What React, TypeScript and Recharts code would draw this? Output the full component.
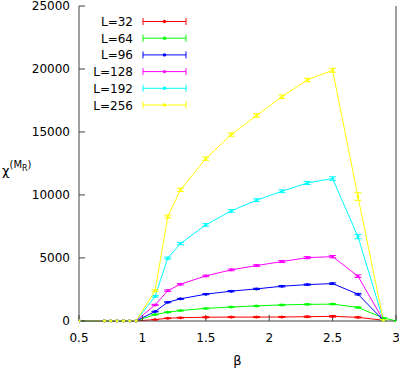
import React from "react";
import { LineChart, Line, XAxis, YAxis, ErrorBar, Legend, Label } from "recharts";

const beta = [0.5, 0.7, 0.75, 0.8, 0.85, 0.9, 0.95, 1.1, 1.2, 1.3, 1.5, 1.7, 1.9, 2.1, 2.3, 2.5, 2.7, 2.9, 3.0];

const chi32 = [0, 0, 0, 0, 0, 0, 0, 100, 210, 250, 290, 300, 300, 310, 330, 360, 280, 50, null];
const chi64 = [0, 0, 0, 0, 0, 0, 0, 500, 690, 820, 990, 1100, 1190, 1270, 1310, 1330, 1070, 230, 0];
const chi96 = [0, 0, 0, 0, 0, 0, 0, 740, 1480, 1750, 2120, 2360, 2540, 2750, 2880, 2960, 2120, 50, null];
const chi128 = [0, 0, 0, 0, 0, 0, 0, 1270, 2400, 2910, 3570, 4050, 4390, 4710, 5020, 5100, 3550, 50, null];
const chi192 = [0, 0, 0, 0, 0, 0, 0, 1950, 4980, 6140, 7620, 8730, 9580, 10290, 10950, 11300, 6690, 50, null];
const chi256 = [0, 0, 0, 0, 0, 0, 0, 2390, 8280, 10400, 12880, 14790, 16300, 17800, 19130, 19900, 9870, 50, null];

const err32 = [0, 0, 0, 0, 0, 0, 0, 20, 30, 30, 40, 40, 40, 40, 50, 60, 40, 10, null];
const err64 = [0, 0, 0, 0, 0, 0, 0, 20, 30, 30, 30, 30, 30, 40, 40, 40, 40, 20, 0];
const err96 = [0, 0, 0, 0, 0, 0, 0, 30, 40, 40, 40, 50, 50, 50, 50, 60, 60, 10, null];
const err128 = [0, 0, 0, 0, 0, 0, 0, 40, 60, 60, 60, 70, 70, 80, 80, 90, 100, 10, null];
const err192 = [0, 0, 0, 0, 0, 0, 0, 60, 80, 90, 100, 100, 110, 110, 120, 140, 170, 20, null];
const err256 = [0, 0, 0, 0, 0, 0, 0, 80, 120, 130, 130, 130, 130, 140, 140, 160, 300, 60, null];

const labels = ["L=32", "L=64", "L=96", "L=128", "L=192", "L=256"];
const colors = ["#ff0000", "#00ff00", "#0000ff", "#ff00ff", "#00ffff", "#ffff00"];
const values = [chi32, chi64, chi96, chi128, chi192, chi256];
const errors = [err32, err64, err96, err128, err192, err256];

const xTicks = [0.5, 1, 1.5, 2, 2.5, 3];
const yTicks = [0, 5000, 10000, 15000, 20000, 25000];

const font = "DejaVu Sans, sans-serif";
const axisColor = "#404040";

const series = values.map((vals, i) =>
  beta
    .map((b, j) => ({ beta: b, chi: vals[j], err: errors[i][j] }))
    .filter((p) => p.chi !== null)
);

// legend drawn by hand: text right-aligned, then a short errorbar sample
const LegendBox = () => (
  <svg width={160} height={110} style={{ display: "block" }}>
    {labels.map((name, i) => {
      const y = 9.5 + i * 16.7;
      return (
        <g key={name}>
          <text x={93} y={y + 4.5} textAnchor="end" fontSize={12} fontFamily={font} fill="#000">
            {name}
          </text>
          <line x1={103} x2={146} y1={y} y2={y} stroke={colors[i]} strokeWidth={1} />
          <line x1={103} x2={103} y1={y - 3.5} y2={y + 3.5} stroke={colors[i]} strokeWidth={1} />
          <line x1={146} x2={146} y1={y - 3.5} y2={y + 3.5} stroke={colors[i]} strokeWidth={1} />
          <circle cx={124.5} cy={y} r={1.7} fill={colors[i]} />
        </g>
      );
    })}
  </svg>
);

const YLabel = () => (
  <text x={2} y={175} fontFamily={font} fill="#000" fontSize={13}>
    χ
    <tspan fontSize={10} dy={-7}>(M</tspan>
    <tspan fontSize={8} dy={3}>R</tspan>
    <tspan fontSize={10} dy={-3}>)</tspan>
  </text>
);

export default function App() {
  return (
    <div style={{ position: "absolute", left: 0, top: 0, width: 399, height: 372, background: "#fff" }}>
      <LineChart width={399} height={372} margin={{ top: 6, right: 0, bottom: 0, left: 0 }}>
        <XAxis
          type="number"
          dataKey="beta"
          domain={[0.5, 3]}
          ticks={xTicks}
          interval={0}
          allowDataOverflow
          height={51}
          tickSize={-6}
          tickMargin={18}
          stroke={axisColor}
          tick={{ fill: "#000", fontSize: 12, fontFamily: font }}
        >
          <Label value="β" position="insideBottom" offset={7} fill="#000" fontSize={13} fontFamily={font} />
        </XAxis>
        <XAxis
          xAxisId="top"
          orientation="top"
          type="number"
          dataKey="beta"
          domain={[0.5, 3]}
          ticks={xTicks}
          interval={0}
          height={0}
          tickSize={-6}
          tick={false}
          stroke={axisColor}
        />
        <YAxis
          type="number"
          domain={[0, 25000]}
          ticks={yTicks}
          interval={0}
          width={79}
          tickSize={-6}
          tickMargin={15}
          stroke={axisColor}
          tick={{ fill: "#000", fontSize: 12, fontFamily: font }}
          label={<YLabel />}
        />
        <YAxis
          yAxisId="right"
          orientation="right"
          type="number"
          domain={[0, 25000]}
          ticks={yTicks}
          interval={0}
          width={3}
          tickSize={-6}
          tick={false}
          stroke={axisColor}
        />
        <Legend
          layout="vertical"
          align="center"
          verticalAlign="middle"
          wrapperStyle={{ left: 40, top: 12, width: 160, height: 110 }}
          content={<LegendBox />}
        />
        {series.map((data, i) => (
          <Line
            key={labels[i]}
            data={data}
            dataKey="chi"
            type="linear"
            stroke={colors[i]}
            strokeWidth={1}
            dot={{ r: 1.5, fill: colors[i], stroke: "none" }}
            activeDot={false}
            isAnimationActive={false}
          >
            <ErrorBar dataKey="err" direction="y" width={3.5} stroke={colors[i]} strokeWidth={1} isAnimationActive={false} />
          </Line>
        ))}
      </LineChart>
    </div>
  );
}
